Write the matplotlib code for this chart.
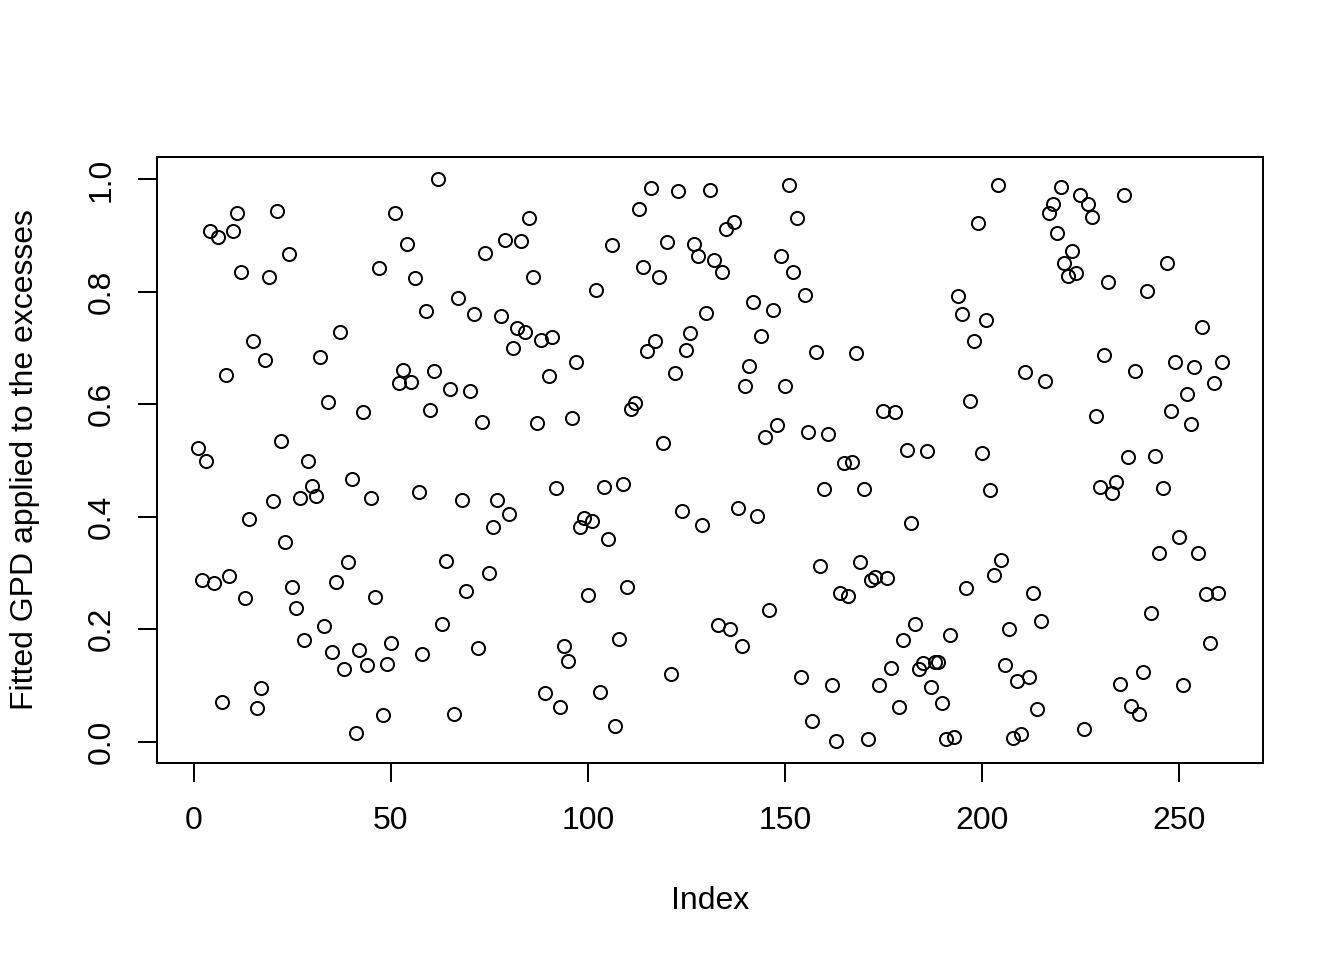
import matplotlib
matplotlib.use("Agg")
import matplotlib.pyplot as plt

# Fitted GPD values, index 1..261
gpd_vals = [
    0.523, 0.288, 0.500, 0.909, 0.283, 0.898, 0.070, 0.652, 0.295, 0.909,
    0.941, 0.835, 0.256, 0.396, 0.712, 0.060, 0.096, 0.678, 0.826, 0.428,
    0.943, 0.535, 0.355, 0.867, 0.275, 0.238, 0.433, 0.181, 0.499, 0.455,
    0.437, 0.684, 0.206, 0.604, 0.160, 0.284, 0.728, 0.130, 0.320, 0.467,
    0.016, 0.163, 0.586, 0.137, 0.433, 0.258, 0.842, 0.048, 0.139, 0.176,
    0.940, 0.638, 0.661, 0.886, 0.639, 0.824, 0.444, 0.156, 0.766, 0.590,
    0.659, 1.000, 0.210, 0.321, 0.627, 0.050, 0.789, 0.430, 0.268, 0.623,
    0.760, 0.167, 0.568, 0.869, 0.300, 0.382, 0.430, 0.757, 0.893, 0.405,
    0.700, 0.735, 0.890, 0.728, 0.931, 0.826, 0.567, 0.714, 0.087, 0.650,
    0.719, 0.451, 0.062, 0.170, 0.144, 0.575, 0.675, 0.382, 0.398, 0.261,
    0.393, 0.803, 0.089, 0.453, 0.361, 0.883, 0.028, 0.183, 0.458, 0.275,
    0.591, 0.602, 0.948, 0.844, 0.694, 0.984, 0.712, 0.826, 0.531, 0.888,
    0.121, 0.655, 0.980, 0.410, 0.696, 0.726, 0.886, 0.863, 0.385, 0.762,
    0.982, 0.856, 0.208, 0.835, 0.911, 0.200, 0.924, 0.416, 0.170, 0.632,
    0.668, 0.782, 0.401, 0.721, 0.542, 0.234, 0.767, 0.563, 0.863, 0.632,
    0.991, 0.835, 0.932, 0.115, 0.794, 0.551, 0.036, 0.693, 0.313, 0.449,
    0.547, 0.101, 0.002, 0.265, 0.496, 0.259, 0.497, 0.691, 0.320, 0.449,
    0.004, 0.288, 0.293, 0.101, 0.588, 0.291, 0.131, 0.586, 0.062, 0.181,
    0.519, 0.389, 0.210, 0.130, 0.140, 0.517, 0.098, 0.142, 0.142, 0.069,
    0.004, 0.190, 0.009, 0.792, 0.760, 0.274, 0.606, 0.712, 0.922, 0.513,
    0.750, 0.448, 0.297, 0.991, 0.323, 0.137, 0.200, 0.007, 0.108, 0.014,
    0.657, 0.115, 0.265, 0.059, 0.215, 0.641, 0.941, 0.956, 0.904, 0.986,
    0.851, 0.829, 0.872, 0.833, 0.972, 0.023, 0.956, 0.934, 0.579, 0.453,
    0.687, 0.817, 0.442, 0.462, 0.103, 0.973, 0.506, 0.064, 0.659, 0.050,
    0.124, 0.801, 0.229, 0.508, 0.336, 0.451, 0.851, 0.588, 0.675, 0.364,
    0.101, 0.618, 0.565, 0.666, 0.336, 0.737, 0.263, 0.176, 0.638, 0.265,
    0.675,
]
index = list(range(1, len(gpd_vals) + 1))
x_ticks = [0, 50, 100, 150, 200, 250]
y_ticks = [0.0, 0.2, 0.4, 0.6, 0.8, 1.0]
y_tick_labels = ["0.0", "0.2", "0.4", "0.6", "0.8", "1.0"]

plt.rcParams['font.family'] = ['Liberation Sans', 'DejaVu Sans']
plt.rcParams['font.size'] = 12

fig = plt.figure(figsize=(7, 5), dpi=192)
ax = fig.add_axes([157/1344, 1 - 763/960, (1263-157)/1344, (763-157)/960])

ax.plot(index, gpd_vals, linestyle='none', marker='o', markersize=4.9,
        markerfacecolor='none', markeredgecolor='black', markeredgewidth=0.75)

# R-style 4% padding on both axes
n = len(gpd_vals)
xr = n - 1
ax.set_xlim(1 - 0.04*xr, n + 0.04*xr)
ymin, ymax = min(gpd_vals), max(gpd_vals)
yr = ymax - ymin
ax.set_ylim(ymin - 0.04*yr, ymax + 0.04*yr)

ax.set_xticks(x_ticks)
ax.set_yticks(y_ticks)
ax.set_yticklabels(y_tick_labels, rotation=90, va='center')
ax.tick_params(axis='both', direction='out', length=7.2, width=0.75, labelsize=12, color='black')
ax.tick_params(axis='x', pad=9)
ax.tick_params(axis='y', pad=8)
for s in ax.spines.values():
    s.set_linewidth(0.75)

ax.set_xlabel("Index", fontsize=12)
ax.set_ylabel("Fitted GPD applied to the excesses", fontsize=12)
ax.xaxis.set_label_coords(0.5, (763-901)/(763-157))
ax.xaxis.label.set_va('center')
ax.yaxis.set_label_coords((25-157)/(1263-157), 0.5)
ax.yaxis.label.set_va('center')

plt.savefig("out.png", dpi=192)
